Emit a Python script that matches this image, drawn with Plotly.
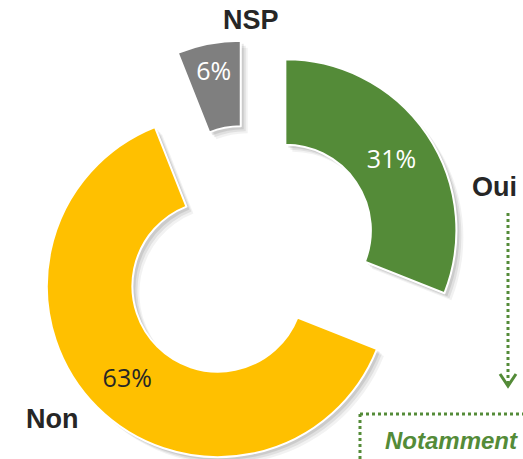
import plotly.graph_objects as go

categories = ["Oui", "Non", "NSP"]
values = [31, 63, 6]
colors = ["#548B38", "#FFC000", "#7F7F7F"]
text_colors = ["#FFFFFF", "#262626", "#FFFFFF"]
box_title = "Notamment"
box_sub = "Conseillé(s)"

W, H = 523, 480

def px(x):
    return x / W

def py(y):
    return 1 - y / H

dom_x = [px(34), px(464)]
dom_y = [py(470), py(40)]
pull = 0.257

fig = go.Figure()

# soft drop shadow layers
for off, alpha in [(7, 0.05), (5, 0.07), (3, 0.09)]:
    fig.add_trace(go.Pie(
        labels=categories, values=values, sort=False, direction="clockwise",
        rotation=0, hole=0.5, pull=[pull] * 3,
        domain=dict(x=[dom_x[0] + off / W, dom_x[1] + off / W],
                    y=[dom_y[0] - off / H, dom_y[1] - off / H]),
        marker=dict(colors=[f"rgba(0,0,0,{alpha})"] * 3, line=dict(width=0)),
        textinfo="none", hoverinfo="skip", showlegend=False,
    ))

fig.add_trace(go.Pie(
    labels=categories, values=values, sort=False, direction="clockwise",
    rotation=0, hole=0.5, pull=[pull] * 3,
    domain=dict(x=dom_x, y=dom_y),
    marker=dict(colors=colors, line=dict(color="white", width=2)),
    texttemplate="%{value}%", textposition="inside",
    insidetextorientation="horizontal",
    textfont=dict(family="Open Sans", size=25, color=text_colors),
    showlegend=False,
))

lab_font = dict(family="Liberation Sans", size=27, color="#262626")
annotations = [
    dict(text="<b>NSP</b>", x=px(251), y=py(20)),
    dict(text="<b>Oui</b>", x=px(494), y=py(187)),
    dict(text="<b>Non</b>", x=px(52), y=py(419)),
]
annotations = [dict(a, xref="paper", yref="paper", showarrow=False,
                    xanchor="center", yanchor="middle", font=lab_font)
               for a in annotations]
annotations.append(dict(text="<b><i>" + box_title + "</i></b>", x=px(451), y=py(440),
                        xref="paper", yref="paper", showarrow=False,
                        xanchor="center", yanchor="middle",
                        font=dict(family="Liberation Sans", size=24, color="#548B38")))
annotations.append(dict(text="<i>" + box_sub + "</i>", x=px(451), y=py(467),
                        xref="paper", yref="paper", showarrow=False,
                        xanchor="center", yanchor="middle",
                        font=dict(family="Liberation Sans", size=18, color="#548B38")))

green = "#548B38"
shapes = [
    dict(type="line", xref="paper", yref="paper", x0=px(508), x1=px(508),
         y0=py(213), y1=py(384), line=dict(color=green, width=3, dash="dot")),
    dict(type="path", xref="paper", yref="paper",
         path=f"M {px(500)},{py(374)} L {px(508)},{py(386)} L {px(516)},{py(374)}",
         line=dict(color=green, width=3)),
    dict(type="line", xref="paper", yref="paper", x0=px(360), x1=px(530),
         y0=py(414), y1=py(414), line=dict(color=green, width=3, dash="dot")),
    dict(type="line", xref="paper", yref="paper", x0=px(360), x1=px(360),
         y0=py(414), y1=py(500), line=dict(color=green, width=3, dash="dot")),
]

fig.update_layout(
    width=W, height=H, margin=dict(l=0, r=0, t=0, b=0),
    paper_bgcolor="white", plot_bgcolor="white",
    annotations=annotations, shapes=shapes,
    uniformtext=dict(mode="show", minsize=25),
)

fig.write_html("out.html", config={"displayModeBar": False},
               post_script="document.body.style.margin='0';document.body.style.overflow='hidden';")
